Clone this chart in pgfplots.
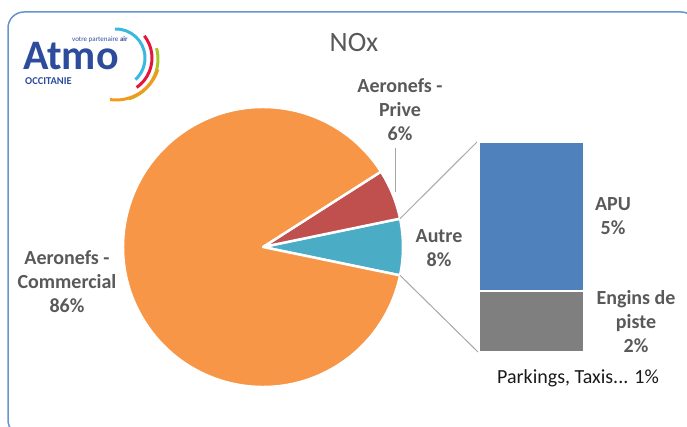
\documentclass[border=0pt]{standalone}
\usepackage{pgfplots}
\pgfplotsset{compat=1.18}
\usepackage{pgfplotstable}
\usepackage{fontspec}
\setmainfont{Carlito}

\definecolor{pieorange}{HTML}{F79646}
\definecolor{piered}{HTML}{C0504D}
\definecolor{pieteal}{HTML}{4BACC6}
\definecolor{barblue}{HTML}{4F81BD}
\definecolor{bargray}{HTML}{7F7F7F}
\definecolor{labgray}{HTML}{595959}
\definecolor{linegray}{HTML}{A6A6A6}
\definecolor{framecol}{HTML}{6A93CC}
\definecolor{atmoblue}{HTML}{2D4D9C}
\definecolor{logocyan}{HTML}{3BB8E0}
\definecolor{logored}{HTML}{E2173B}
\definecolor{logogreen}{HTML}{A8C523}
\definecolor{logoorange}{HTML}{F39A1E}

% pie: share of each slice (angles as drawn), Autre centred on the right
\pgfplotstableread{
name value col
Autre 6.5 pieteal
Prive 5.8 piered
Commercial 87.7 pieorange
}\piedata

% bar of pie: breakdown of Autre
\pgfplotstableread{
name value
Engins 2.2
APU 5.4
}\bardata

\tikzset{lab/.style={text=labgray, font=\bfseries\fontsize{20}{24}\selectfont, align=center}}

\begin{document}
\begin{tikzpicture}
\useasboundingbox (0,0) rectangle (687pt,426pt);
\begin{scope}
  \clip (0,0) rectangle (687pt,426pt);
  \draw[framecol, line width=1.5pt, rounded corners=16pt] (8pt,-10pt) rectangle (697pt,414pt);
\end{scope}

% logo
\begin{scope}[line width=3pt]
  \draw[logocyan] ([shift={(92:29pt)}]116pt,368pt) arc[start angle=92, end angle=-48, radius=29pt];
  \draw[logored] ([shift={(38:36pt)}]116pt,368pt) arc[start angle=38, end angle=-55, radius=36pt];
  \draw[logogreen] ([shift={(15:42pt)}]116pt,367pt) arc[start angle=15, end angle=-72, radius=42pt];
  \draw[logoorange] ([shift={(-18:44pt)}]116pt,370pt) arc[start angle=-18, end angle=-98, radius=44pt];
\end{scope}
\node[anchor=base west, inner sep=0, text=atmoblue, font=\bfseries\fontsize{42}{42}\selectfont] at (23pt,356pt) {Atmo};
\node[anchor=base west, inner sep=0, text=atmoblue, font=\bfseries\fontsize{10.5}{11}\selectfont] at (25pt,341pt) {OCCITANIE};
\node[anchor=base west, inner sep=0, text=atmoblue, font=\fontsize{7}{8}\selectfont] at (72pt,384pt) {votre partenaire \textbf{air}};

\begin{axis}[at={(263pt,179pt)}, anchor=origin, hide axis, clip=false,
  x=1pt, y=1pt, xmin=-145, xmax=145, ymin=-145, ymax=145]
  \pgfplotstablegetelem{0}{value}\of\piedata
  \pgfmathsetmacro{\angA}{-1.8*\pgfplotsretval}
  \coordinate (pbot) at (axis cs:{140*cos(\angA)},{140*sin(\angA)});
  \coordinate (ptop) at (axis cs:{140*cos(\angA)},{-140*sin(\angA)});
  \pgfplotsforeachungrouped \i in {0,1,2}{
    \pgfplotstablegetelem{\i}{value}\of\piedata
    \let\v\pgfplotsretval
    \pgfplotstablegetelem{\i}{col}\of\piedata
    \let\c\pgfplotsretval
    \pgfmathsetmacro{\angB}{\angA+3.6*\v}
    \edef\slice{\noexpand\fill[\c, draw=white, line width=2.5pt, line join=round]
      (axis cs:0,0) -- (axis cs:{140*cos(\angA)},{140*sin(\angA)})
      arc[start angle=\angA, end angle=\angB, radius=140pt] -- cycle;}
    \slice
    \global\let\angA\angB
  }
\end{axis}

\begin{axis}[at={(531.5pt,74pt)}, anchor=origin, hide axis, clip=false,
  x=1pt, y=27.63pt, xmin=-60, xmax=60, ymin=0, ymax=7.6,
  ybar stacked, bar width=105pt]
  \addplot[fill=bargray, draw=white, line width=1.5pt] table[x expr=0, y=value, skip coords between index={1}{2}] {\bardata};
  \addplot[fill=barblue, draw=white, line width=1.5pt] table[x expr=0, y=value, skip coords between index={0}{1}] {\bardata};
  \coordinate (btop) at (axis cs:-54.5,7.6);
  \coordinate (bbot) at (axis cs:-53.5,0);
\end{axis}

\draw[linegray, line width=1pt] (ptop) -- (btop);
\draw[linegray, line width=1pt] (pbot) -- (bbot);
\draw[linegray, line width=1pt] (395pt,278pt) -- (395pt,234pt);

% title and data labels
\node[text=labgray, font=\fontsize{28}{30}\selectfont] at (354pt,383.5pt) {NOx};
\node[lab] at (400pt,316pt) {Aeronefs -\\Prive\\6\%};
\node[lab] at (439pt,177.5pt) {Autre\\8\%};
\node[lab] at (67pt,144pt) {Aeronefs -\\Commercial\\86\%};
\node[lab] at (613pt,209.5pt) {APU\\5\%};
\node[lab] at (636pt,104pt) {Engins de\\piste\\2\%};
\node[text=black!90, font=\fontsize{20}{24}\selectfont] at (578pt,48pt) {Parkings, Taxis... 1\%};

\end{tikzpicture}
\end{document}
